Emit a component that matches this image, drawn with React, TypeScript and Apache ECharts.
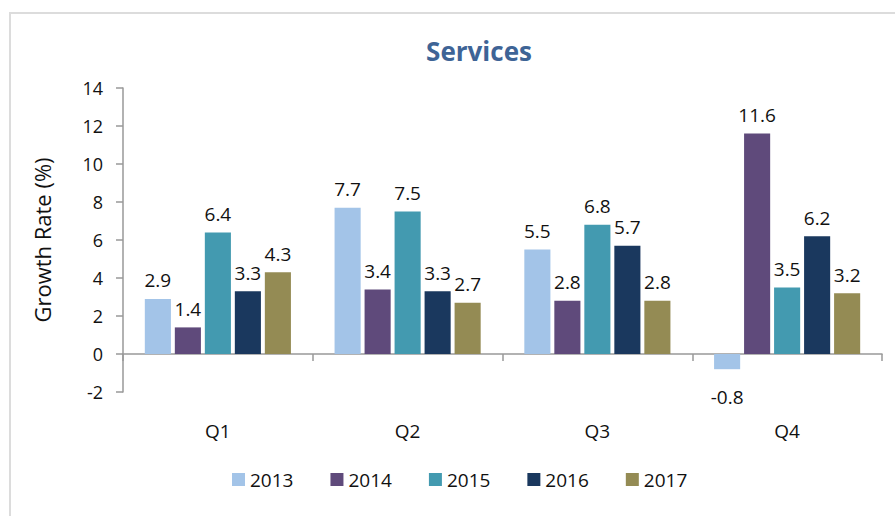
import React, { useEffect, useRef } from "react";
import * as echarts from "echarts";

const categories = ["Q1", "Q2", "Q3", "Q4"];
const years = ["2013", "2014", "2015", "2016", "2017"];
const s2013 = [2.9, 7.7, 5.5, -0.8];
const s2014 = [1.4, 3.4, 2.8, 11.6];
const s2015 = [6.4, 7.5, 6.8, 3.5];
const s2016 = [3.3, 3.3, 5.7, 6.2];
const s2017 = [4.3, 2.7, 2.8, 3.2];
const seriesValues = [s2013, s2014, s2015, s2016, s2017];
const colors = ["#A3C4E8", "#5F4A7B", "#439AB0", "#1A385E", "#948B54"];

const FONT = "'Open Sans', 'Noto Sans', sans-serif";

export default function App() {
  const ref = useRef<HTMLDivElement>(null);
  useEffect(() => {
    if (!ref.current) return;
    const chart = echarts.init(ref.current, undefined, { renderer: "svg" });
    chart.setOption({
      animation: false,
      backgroundColor: "#ffffff",
      textStyle: { fontFamily: FONT },
      title: {
        text: "Services",
        left: 474,
        top: 33,
        textAlign: "center",
        textStyle: { fontFamily: FONT, fontSize: 26, fontWeight: "bold", color: "#3E6496" },
      },
      graphic: [
        {
          type: "rect",
          shape: { x: 10, y: 13, width: 1000, height: 1000 },
          style: { fill: "none", stroke: "#dcdcdc", lineWidth: 2 },
          silent: true,
          z: -1,
        },
      ],
      legend: {
        bottom: 22,
        left: 227,
        itemWidth: 13,
        itemHeight: 13,
        itemGap: 37,
        icon: "rect",
        textStyle: { fontFamily: FONT, fontSize: 19, color: "#111" },
        data: years,
      },
      grid: { left: 123, right: 13, top: 88, bottom: 124 },
      xAxis: {
        type: "category",
        data: categories,
        axisLine: { onZero: true, lineStyle: { color: "#999", width: 1.5 } },
        axisTick: { show: true, length: 7, lineStyle: { color: "#999", width: 1.5 } },
        axisLabel: { margin: 29, fontFamily: FONT, fontSize: 19, color: "#111" },
      },
      yAxis: {
        type: "value",
        min: -2,
        max: 14,
        interval: 2,
        name: "Growth Rate (%)",
        nameLocation: "middle",
        nameGap: 70,
        nameTextStyle: { fontFamily: FONT, fontSize: 22, color: "#111" },
        splitLine: { show: false },
        axisLine: { show: true, lineStyle: { color: "#999", width: 1.5 } },
        axisTick: { show: true, length: 7, lineStyle: { color: "#999", width: 1.5 } },
        axisLabel: { margin: 20, fontFamily: FONT, fontSize: 18, color: "#111" },
      },
      series: years.map((y, i) => ({
        name: y,
        type: "bar",
        data: seriesValues[i].map((v) =>
          v < 0
            ? { value: v, label: { position: "bottom", distance: 18 } }
            : { value: v }
        ),
        barGap: "15%",
        barCategoryGap: "23%",
        itemStyle: { color: colors[i] },
        label: {
          show: true,
          position: "top",
          distance: 9,
          fontFamily: FONT,
          fontSize: 19,
          color: "#111",
        },
      })),
    });
    return () => chart.dispose();
  }, []);
  return (
    <div
      ref={ref}
      style={{ position: "absolute", left: 0, top: 0, width: 895, height: 516 }}
    />
  );
}
